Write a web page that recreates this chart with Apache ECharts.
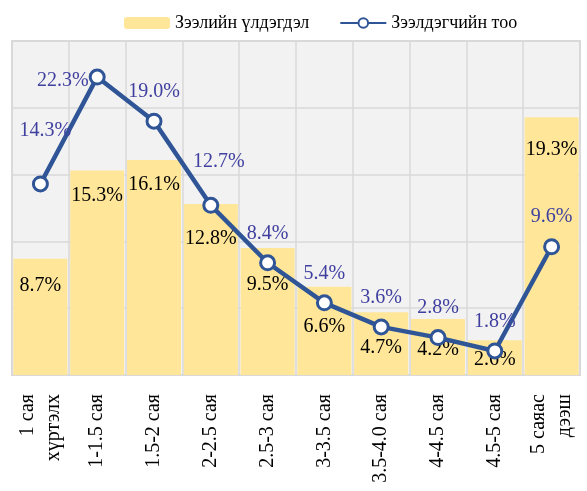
<!DOCTYPE html>
<html>
<head>
<meta charset="utf-8">
<script src="https://cdn.jsdelivr.net/npm/echarts@6/dist/echarts.min.js"></script>
<style>
  html, body { margin: 0; padding: 0; background: #fff; }
  #chart { width: 587px; height: 491px; }
</style>
</head>
<body>
<div id="chart"></div>
<script>
// ангилал
const categories = [
  "1 сая\nхүртэлх", "1-1.5 сая", "1.5-2 сая", "2-2.5 сая", "2.5-3 сая",
  "3-3.5 сая", "3.5-4.0 сая", "4-4.5 сая", "4.5-5 сая", "5 саяас\nдээш"
];
// Зээлийн үлдэгдэл, %
const balanceShare = [8.7, 15.3, 16.1, 12.8, 9.5, 6.6, 4.7, 4.2, 2.6, 19.3];
// Зээлдэгчийн тоо, %
const borrowerShare = [14.3, 22.3, 19.0, 12.7, 8.4, 5.4, 3.6, 2.8, 1.8, 9.6];

const serif = "'Liberation Serif', 'Times New Roman', serif";
const lineColor = "#2F5597";

// label nudges so the texts don't sit on the line
const barLabelDist = [17, 15, 15, 25, 27, 30, 26, 21, 9, 23];
const lineLabelFix = {
  0: { distance: 35, offset: [5, 0] },
  1: { position: "left", distance: 0, offset: [0, 4] },
  3: { distance: 25, offset: [8, 0] }
};

const barData = balanceShare.map((v, i) => ({
  value: v,
  label: { distance: barLabelDist[i] }
}));
const lineData = borrowerShare.map((v, i) => ({
  value: v,
  label: lineLabelFix[i] || {}
}));

const option = {
  animation: false,
  textStyle: { fontFamily: serif },
  legend: {
    left: 119,
    top: 9,
    itemWidth: 46,
    itemHeight: 12,
    itemGap: 30,
    textStyle: { fontFamily: serif, fontSize: 18, color: "#000" },
    data: ["Зээлийн үлдэгдэл", "Зээлдэгчийн тоо"]
  },
  grid: {
    left: 12,
    right: 7,
    top: 41,
    bottom: 116,
    show: true,
    backgroundColor: "#f2f2f2",
    borderColor: "#d9d9d9",
    borderWidth: 2
  },
  xAxis: {
    type: "category",
    data: categories,
    axisLine: { show: false },
    axisTick: { show: false },
    splitLine: {
      show: true,
      interval: 0,
      lineStyle: { color: "#d9d9d9", width: 1.5 }
    },
    axisLabel: {
      interval: 0,
      rotate: 90,
      margin: 19,
      fontFamily: serif,
      fontSize: 20,
      color: "#000",
      lineHeight: 26
    }
  },
  yAxis: {
    type: "value",
    min: 0,
    max: 25,
    interval: 5,
    axisLabel: { show: false },
    axisLine: { show: false },
    axisTick: { show: false },
    splitLine: { lineStyle: { color: "#d9d9d9", width: 1.5 } }
  },
  series: [
    {
      name: "Зээлийн үлдэгдэл",
      type: "bar",
      barCategoryGap: "5%",
      data: barData,
      itemStyle: { color: "#FFE699" },
      label: {
        show: true,
        position: "insideTop",
        fontFamily: serif,
        fontSize: 20,
        color: "#000",
        formatter: (p) => p.value.toFixed(1) + "%"
      }
    },
    {
      name: "Зээлдэгчийн тоо",
      type: "line",
      data: lineData,
      symbol: "circle",
      symbolSize: 14,
      lineStyle: { color: lineColor, width: 4.5 },
      itemStyle: { color: "#fff", borderColor: lineColor, borderWidth: 3 },
      label: {
        show: true,
        position: "top",
        distance: 11,
        fontFamily: serif,
        fontSize: 20,
        color: "#4040A0",
        formatter: (p) => p.value.toFixed(1) + "%"
      }
    }
  ]
};

const myChart = echarts.init(document.getElementById("chart"));
myChart.setOption(option);
</script>
</body>
</html>
